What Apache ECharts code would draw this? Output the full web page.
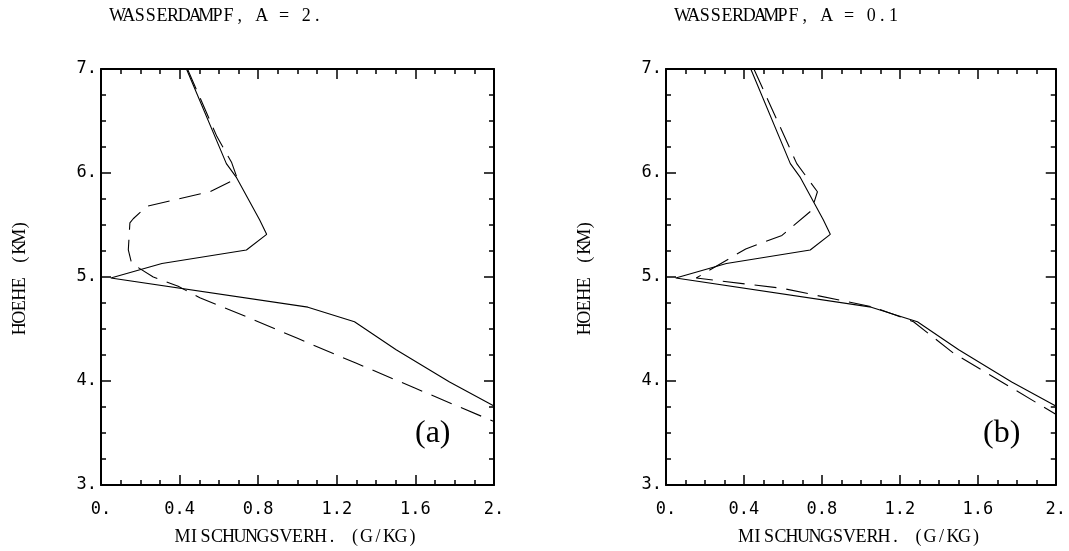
<!DOCTYPE html>
<html>
<head>
<meta charset="utf-8">
<script src="https://cdn.jsdelivr.net/npm/echarts@6/dist/echarts.min.js"></script>
<style>
html,body{margin:0;padding:0;background:#fff;}
#chart{width:1069px;height:551px;}
</style>
</head>
<body>
<div id="chart"></div>
<script>
// ---- data ----
const panelTitles = ['WASSERDAMPF, A = 2.', 'WASSERDAMPF, A = 0.1'];
const panelTags = ['(a)', '(b)'];
const xName = 'MISCHUNGSVERH. (G/KG)';
const yName = 'HOEHE (KM)';
const xTicks = [0, 0.4, 0.8, 1.2, 1.6, 2.0];
const xTickLabels = ['0.', '0.4', '0.8', '1.2', '1.6', '2.'];
const yTicks = [3, 4, 5, 6, 7];
const yTickLabels = ['3.', '4.', '5.', '6.', '7.'];

// solid profile (same in both panels): mixing ratio (g/kg) and height (km)
const solidX = [0.435, 0.638, 0.69, 0.807, 0.843, 0.74, 0.31, 0.05, 1.053, 1.29, 1.502, 1.774, 2.0];
const solidH = [7.0, 6.09, 5.955, 5.55, 5.41, 5.26, 5.13, 4.99, 4.71, 4.57, 4.30, 3.99, 3.76];

// dashed profile, panel (a), A = 2.
const dashAX = [0.44, 0.59, 0.665, 0.693, 0.554, 0.232, 0.164, 0.147, 0.139, 0.156, 0.266, 0.393, 0.503, 0.75, 1.0, 1.3, 1.6, 2.0];
const dashAH = [7.0, 6.35, 6.1, 5.95, 5.82, 5.68, 5.56, 5.52, 5.26, 5.13, 5.0, 4.91, 4.80, 4.61, 4.41, 4.17, 3.93, 3.61];

// dashed profile, panel (b), A = 0.1
const dashBX = [0.451, 0.671, 0.777, 0.747, 0.595, 0.409, 0.155, 0.6, 1.066, 1.27, 1.474, 2.0];
const dashBH = [7.0, 6.09, 5.82, 5.64, 5.40, 5.27, 4.99, 4.89, 4.71, 4.57, 4.27, 3.68];

// ---- chart ----
const pairs = (xs, hs) => xs.map((x, i) => [x, hs[i]]);
const xFmt = v => { const i = xTicks.findIndex(t => Math.abs(t - v) < 1e-6); return i >= 0 ? xTickLabels[i] : ''; };
const yFmt = v => { const i = yTicks.findIndex(t => Math.abs(t - v) < 1e-6); return i >= 0 ? yTickLabels[i] : ''; };
// fixed-pitch serif text: every character in its own fixed-width rich-text cell
const mono = (s, cls) => s.split('').map(ch => '{' + cls + '|' + ch + '}').join('');

const serif = '"Liberation Serif"';
const sansMono = '"DejaVu Sans Mono"';
const richCells = {
  t: {fontFamily: serif, fontSize: 18, fontWeight: 'normal', width: 11.1, align: 'center', color: '#000'},
  n: {fontFamily: serif, fontSize: 18, fontWeight: 'normal', width: 11.5, align: 'center', color: '#000'}
};
const grids = [
  {left: 101, top: 69, width: 393, height: 416},
  {left: 666, top: 69, width: 394, height: 416}
];

const xAxes = [], yAxes = [];
grids.forEach((g, gi) => {
  ['bottom', 'top'].forEach(pos => {
    xAxes.push({
      type: 'value', gridIndex: gi, position: pos, min: 0, max: 2, interval: 0.4,
      name: pos === 'bottom' ? mono(xName, 'n') : '', nameLocation: 'middle', nameGap: 43,
      nameTextStyle: {fontWeight: 'normal', rich: richCells},
      axisLine: {show: true, onZero: false, lineStyle: {color: '#000', width: 2}},
      axisTick: {show: true, inside: true, length: 10, lineStyle: {color: '#000', width: 1.5}},
      minorTick: {show: true, splitNumber: 4, length: 5, lineStyle: {color: '#000', width: 1.5}},
      axisLabel: {show: pos === 'bottom', formatter: xFmt, margin: 16, fontFamily: sansMono, fontSize: 17, color: '#000', showMinLabel: true, showMaxLabel: true},
      splitLine: {show: false}, minorSplitLine: {show: false}
    });
  });
  ['left', 'right'].forEach(pos => {
    yAxes.push({
      type: 'value', gridIndex: gi, position: pos, min: 3, max: 7, interval: 1,
      name: pos === 'left' ? mono(yName, 'n') : '', nameLocation: 'middle', nameGap: 72, nameRotate: 90,
      nameTextStyle: {fontWeight: 'normal', rich: richCells},
      axisLine: {show: true, onZero: false, lineStyle: {color: '#000', width: 2}},
      axisTick: {show: true, inside: true, length: 10, lineStyle: {color: '#000', width: 1.5}},
      minorTick: {show: true, splitNumber: 4, length: 5, lineStyle: {color: '#000', width: 1.5}},
      axisLabel: {show: pos === 'left', formatter: yFmt, margin: 4, fontFamily: sansMono, fontSize: 17, color: '#000', showMinLabel: true, showMaxLabel: true},
      splitLine: {show: false}, minorSplitLine: {show: false}
    });
  });
});

const lineSeries = (data, xi, yi, dashed) => ({
  type: 'line', data, xAxisIndex: xi, yAxisIndex: yi, showSymbol: false, symbol: 'none',
  clip: true, silent: true,
  lineStyle: {color: '#000', width: 1.1, type: dashed ? [22, 10] : 'solid'}
});

const chart = echarts.init(document.getElementById('chart'), null, {renderer: 'canvas'});
chart.setOption({
  animation: false,
  backgroundColor: '#fff',
  title: [
    {text: mono(panelTitles[0], 't'), left: 107, top: 2, textStyle: {fontWeight: 'normal', rich: richCells}},
    {text: mono(panelTitles[1], 't'), left: 672, top: 2, textStyle: {fontWeight: 'normal', rich: richCells}}
  ],
  grid: grids,
  xAxis: xAxes,
  yAxis: yAxes,
  graphic: [
    {type: 'text', left: 415, top: 418, style: {text: panelTags[0], font: '32px "Liberation Serif"', fill: '#000'}},
    {type: 'text', left: 983, top: 418, style: {text: panelTags[1], font: '32px "Liberation Serif"', fill: '#000'}}
  ],
  series: [
    lineSeries(pairs(solidX, solidH), 0, 0, false),
    lineSeries(pairs(dashAX, dashAH), 0, 0, true),
    lineSeries(pairs(solidX, solidH), 2, 2, false),
    lineSeries(pairs(dashBX, dashBH), 2, 2, true)
  ]
});
</script>
</body>
</html>
